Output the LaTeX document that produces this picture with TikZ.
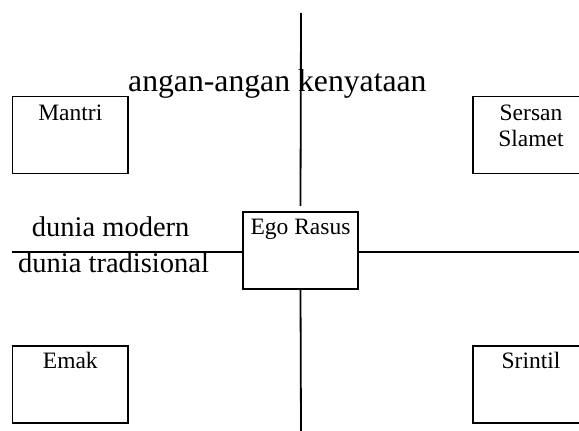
\documentclass[tikz,border=0pt]{standalone}
\usepackage{fontspec}
\setmainfont{Liberation Serif}
\begin{document}
\begin{tikzpicture}[x=1pt,y=1pt,
  figure/.style={draw,line width=1.8pt,minimum width=115.5pt,minimum height=77pt,inner sep=0pt},
  boxtext/.style={anchor=base,font=\fontsize{23.5}{26}\selectfont,inner sep=0pt,align=center},
  axis/.style={line width=1.8pt},
  axislabel/.style={anchor=base west,inner sep=0pt}]
\useasboundingbox (0,0) rectangle (579,431);
\clip (0,0) rectangle (579,431);

% the four characters and Rasus in the middle
\node[figure] (ego)    at (300.5,180.6) {};
\node[figure] (mantri) at (70.3,296) {};
\node[figure] (sersan) at (531,296) {};
\node[figure] (emak)   at (70.3,46.5) {};
\node[figure] (srintil)at (531,46.5) {};

% names, set near the top of each box (a two-line node sits on its last line)
\node[boxtext] (tego)    at ([yshift=-23.3pt]ego.north) {Ego Rasus};
\node[boxtext] (tmantri) at ([yshift=-25pt]mantri.north) {Mantri};
\node[boxtext] (tsersan) at ([yshift=-51pt]sersan.north) {Sersan\\Slamet};
\node[boxtext] (temak)   at ([yshift=-23pt]emak.north) {Emak};
\node[boxtext] (tsrintil)at ([yshift=-23pt]srintil.north) {Srintil};

% axes
\coordinate (top)    at (301,418);
\coordinate (bottom) at (301,0);
\coordinate (left)   at (12,179.3);
\coordinate (right)  at (579,179.3);
\draw[axis] (top) -- ([yshift=5pt]ego.north);
\draw[axis] (ego.south) -- (bottom);
\draw[axis] (left) -- (ego.west |- left);
\draw[axis] (ego.east |- right) -- (right);

% axis captions
\node[axislabel,font=\fontsize{31.7}{36}\selectfont] (fantasy) at (128,339.3) {angan-angan kenyataan};
\node[axislabel,font=\fontsize{28.5}{33}\selectfont] (modern) at (31.7,194.3) {dunia modern};
\node[axislabel,font=\fontsize{28.5}{33}\selectfont] (trad) at (18,158) {dunia tradisional};
\end{tikzpicture}
\end{document}
